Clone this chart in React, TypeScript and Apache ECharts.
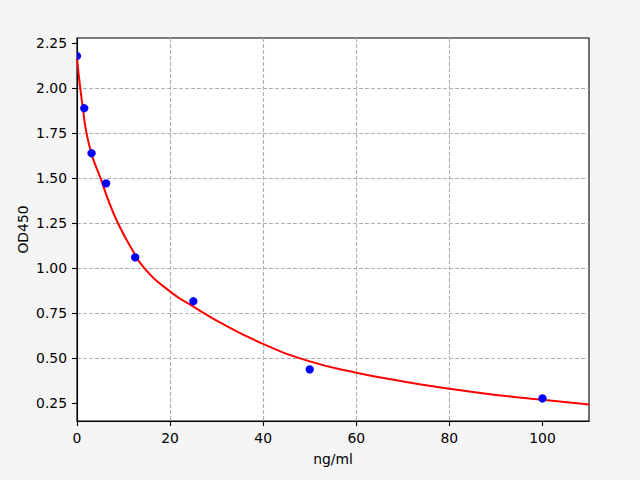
import React, { useEffect, useRef } from "react";
import * as echarts from "echarts";

// Measured standards (concentration ng/ml, OD450)
const conc = [0, 1.5625, 3.125, 6.25, 12.5, 25, 50, 100];
const od = [2.179, 1.889, 1.639, 1.472, 1.061, 0.817, 0.439, 0.278];

// Fitted curve
const curveX = [0, 0.7, 1.3, 2.05, 3.3, 5, 6.7, 8.8, 11.5, 14.5, 20.3, 25, 30, 40, 50, 60, 70, 80, 90, 100, 110];
const curveY = [2.165, 2.0, 1.88, 1.75, 1.62, 1.505, 1.38, 1.25, 1.12, 1.0, 0.865, 0.787, 0.71, 0.58, 0.483, 0.42, 0.372, 0.331, 0.297, 0.27, 0.244];

// Tick labels
const xTicks = [0, 20, 40, 60, 80, 100];
const yTicks = [0.25, 0.5, 0.75, 1.0, 1.25, 1.5, 1.75, 2.0, 2.25];

const FONT = "DejaVu Sans";
const FS = 13.9;

export default function App() {
  const ref = useRef<HTMLDivElement>(null);

  useEffect(() => {
    if (!ref.current) return;
    const chart = echarts.init(ref.current, undefined, { renderer: "svg" });
    const gridLine = { show: true, showMinLine: false, showMaxLine: false, lineStyle: { color: "#b0b0b0", width: 1.1, type: [4, 2] as any } };
    chart.setOption({
      animation: false,
      backgroundColor: "#f5f5f5",
      textStyle: { fontFamily: FONT },
      grid: {
        left: 77,
        right: 51,
        top: 38,
        bottom: 59,
        show: true,
        backgroundColor: "#ffffff",
        borderColor: "#000000",
        borderWidth: 1.1,
        outerBoundsMode: "none",
      },
      xAxis: {
        type: "value",
        min: 0,
        max: 110,
        interval: 20,
        name: "ng/ml",
        nameLocation: "middle",
        nameGap: 31,
        nameMoveOverlap: false,
        nameTextStyle: { fontFamily: FONT, fontSize: FS, color: "#000" },
        axisLine: { show: true, lineStyle: { color: "#000", width: 1.1 } },
        axisTick: { show: true, length: 5, customValues: xTicks, lineStyle: { color: "#000", width: 1.1 } },
        axisLabel: {
          customValues: xTicks,
          margin: 10,
          fontFamily: FONT,
          fontSize: FS,
          color: "#000",
        },
        splitLine: gridLine,
      },
      yAxis: {
        type: "value",
        min: 0.152,
        max: 2.279,
        minInterval: 0.25,
        maxInterval: 0.25,
        name: "OD450",
        nameLocation: "middle",
        nameGap: 47,
        nameMoveOverlap: false,
        nameTextStyle: { fontFamily: FONT, fontSize: FS, color: "#000" },
        axisLine: { show: true, lineStyle: { color: "#000", width: 1.1 } },
        axisTick: { show: true, length: 5, customValues: yTicks, lineStyle: { color: "#000", width: 1.1 } },
        axisLabel: {
          customValues: yTicks,
          margin: 10,
          fontFamily: FONT,
          fontSize: FS,
          color: "#000",
          formatter: (v: number) => v.toFixed(2),
        },
        splitLine: gridLine,
      },
      series: [
        {
          type: "line",
          data: curveX.map((x, i) => [x, curveY[i]]),
          smooth: 0.5,
          showSymbol: false,
          clip: true,
          lineStyle: { color: "#ff0000", width: 2 },
          itemStyle: { color: "#ff0000" },
          z: 2,
        },
        {
          type: "custom",
          clip: true,
          data: conc.map((c, i) => [c, od[i]]),
          encode: { x: 0, y: 1 },
          renderItem: (params: any, api: any) => {
            const p = api.coord([api.value(0), api.value(1)]);
            return {
              type: "circle",
              shape: { cx: p[0], cy: p[1], r: 4.15 },
              style: { fill: "#0000ff" },
            };
          },
          z: 3,
        },
      ],
    });
    return () => chart.dispose();
  }, []);

  return (
    <div
      ref={ref}
      style={{ position: "fixed", left: 0, top: 0, width: 640, height: 480 }}
    />
  );
}
